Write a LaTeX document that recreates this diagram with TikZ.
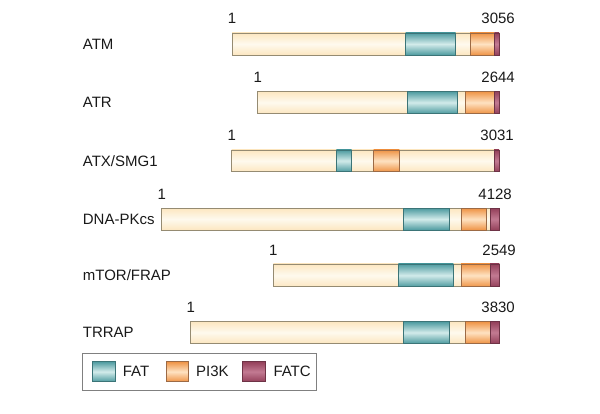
\documentclass[tikz,border=0pt]{standalone}
\usepackage{fontspec}
\setmainfont{Liberation Sans}
\usepackage{xcolor}

\definecolor{creamfill}{HTML}{FCF1D4}
\definecolor{creamline}{HTML}{958B72}
\definecolor{fatdark}{HTML}{4E9BA0}
\definecolor{fatlight}{HTML}{D2EBEA}
\definecolor{fatline}{HTML}{3B7477}
\definecolor{pikdark}{HTML}{EF9446}
\definecolor{piklight}{HTML}{FEE2C2}
\definecolor{pikline}{HTML}{9C6A45}
\definecolor{fatcdark}{HTML}{94405A}
\definecolor{fatclight}{HTML}{C27A92}
\definecolor{fatcline}{HTML}{6E3346}

\tikzset{
  seqbar/.style={draw=creamline, line width=0.8pt, top color=creamfill!85!orange!60!creamfill, bottom color=creamfill!85!orange!60!creamfill, middle color=creamfill!40!white},
  fatbox/.style={draw=fatline, line width=0.8pt, top color=fatdark, bottom color=fatdark, middle color=fatlight},
  pikbox/.style={draw=pikline, line width=0.8pt, top color=pikdark, bottom color=pikdark, middle color=piklight},
  fatcbox/.style={draw=fatcline, line width=0.6pt, top color=fatcdark, bottom color=fatcdark, middle color=fatclight},
  protname/.style={anchor=west, inner sep=0pt, font=\fontsize{15}{17}\selectfont, text=black!90},
  resnum/.style={inner sep=0pt, font=\fontsize{15}{17}\selectfont, text=black!90},
  legtext/.style={anchor=west, inner sep=0pt, font=\fontsize{15}{17}\selectfont, text=black!90}
}

\begin{document}
\begin{tikzpicture}[x=1pt, y=-1pt]
  \useasboundingbox (0,0) rectangle (600,414);

  % ATM
  \node[protname] (atm) at (82.7,44) {ATM};
  \draw[seqbar] (232,33) rectangle (499,55);
  \draw[fatbox] (405.7,33) rectangle (455.7,55);
  \draw[pikbox] (470,33) rectangle (494.3,55);
  \draw[fatcbox] (494.3,33) rectangle (499,55);
  \node[resnum, anchor=base] (atm-first) at (232,24) {1};
  \node[resnum, anchor=base east] (atm-last) at (515,24) {3056};

  % ATR
  \node[protname] (atr) at (82.7,102.5) {ATR};
  \draw[seqbar] (257.7,91.5) rectangle (499,113.5);
  \draw[fatbox] (407.3,91.5) rectangle (457.7,113.5);
  \draw[pikbox] (465,91.5) rectangle (494.7,113.5);
  \draw[fatcbox] (494.7,91.5) rectangle (499,113.5);
  \node[resnum, anchor=base] (atr-first) at (257.7,82.7) {1};
  \node[resnum, anchor=base east] (atr-last) at (515,82.7) {2644};

  % ATX/SMG1
  \node[protname] (atx) at (82.7,161) {ATX/SMG1};
  \draw[seqbar] (231.7,150) rectangle (499,171.7);
  \draw[fatbox] (336.3,150) rectangle (351.7,171.7);
  \draw[pikbox] (373.7,150) rectangle (399.3,171.7);
  \draw[fatcbox] (494,150) rectangle (499,171.7);
  \node[resnum, anchor=base] (atx-first) at (231.7,141) {1};
  \node[resnum, anchor=base east] (atx-last) at (514,141) {3031};

  % DNA-PKcs
  \node[protname] (dnapk) at (82.7,219) {DNA-PKcs};
  \draw[seqbar] (161.7,208.3) rectangle (499.3,230);
  \draw[fatbox] (403,208.3) rectangle (449.7,230);
  \draw[pikbox] (461.3,208.3) rectangle (486.7,230);
  \draw[fatcbox] (490.7,208.3) rectangle (499.3,230);
  \node[resnum, anchor=base] (dnapk-first) at (161.7,199.3) {1};
  \node[resnum, anchor=base east] (dnapk-last) at (512,199.3) {4128};

  % mTOR/FRAP
  \node[protname] (mtor) at (82.7,275.3) {mTOR/FRAP};
  \draw[seqbar] (273.3,264) rectangle (499.3,286.7);
  \draw[fatbox] (398.3,264) rectangle (453.3,286.7);
  \draw[pikbox] (461,264) rectangle (490,286.7);
  \draw[fatcbox] (490,264) rectangle (499.3,286.7);
  \node[resnum, anchor=base] (mtor-first) at (273.3,255) {1};
  \node[resnum, anchor=base east] (mtor-last) at (516,255) {2549};

  % TRRAP
  \node[protname] (trrap) at (82.7,332.5) {TRRAP};
  \draw[seqbar] (190.7,321.7) rectangle (499.3,343.3);
  \draw[fatbox] (403.3,321.7) rectangle (449.3,343.3);
  \draw[pikbox] (465.7,321.7) rectangle (490,343.3);
  \draw[fatcbox] (490,321.7) rectangle (499.3,343.3);
  \node[resnum, anchor=base] (trrap-first) at (190.7,312.7) {1};
  \node[resnum, anchor=base east] (trrap-last) at (515,312.7) {3830};

  % key
  \draw[draw=black!50, line width=0.8pt] (82.7,353.3) rectangle (316,390);
  \draw[fatbox] (92.3,361.7) rectangle (115,381.7);
  \node[legtext] (key-fat) at (122.7,371.7) {FAT};
  \draw[pikbox] (166,361.7) rectangle (188.3,381.7);
  \node[legtext] (key-pik) at (196,371.7) {PI3K};
  \draw[fatcbox, line width=0.8pt] (242.7,361.7) rectangle (265,381.7);
  \node[legtext] (key-fatc) at (273.3,371.7) {FATC};
\end{tikzpicture}
\end{document}
